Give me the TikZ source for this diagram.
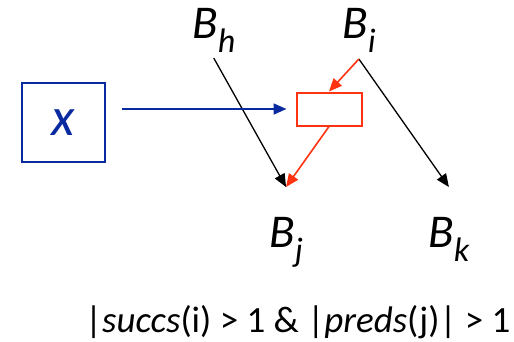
\documentclass[tikz,border=0pt]{standalone}
\usepackage{fontspec}
\setmainfont{Carlito}
\definecolor{xblue}{HTML}{0A2AA0}
\definecolor{cred}{HTML}{FF3311}
\usetikzlibrary{arrows.meta,positioning,calc}

\newcommand{\blab}[2]{\textit{B}\raisebox{-0.3em}{\fontsize{34}{36}\selectfont\textit{#2}}}

\begin{document}
\begin{tikzpicture}[x=1pt,y=-1pt,
  lab/.style={font=\fontsize{47}{50}\selectfont,inner sep=0pt,anchor=base west},
  xbox/.style={draw=xblue,line width=1.8pt,minimum width=83pt,minimum height=79pt,text=xblue,font=\fontsize{54}{58}\selectfont\itshape},
  cbox/.style={draw=cred,line width=2pt,minimum width=65pt,minimum height=33pt},
  arr/.style={-{Triangle[length=13pt,width=11pt]},line width=1.3pt}]
  \useasboundingbox (0,0) rectangle (514,341);
  \node[lab] (Bh) at (192,38) {\blab{B}{h}};
  \node[lab] (Bi) at (342,38) {\blab{B}{i}};
  \node[lab] (Bj) at (269,247) {\blab{B}{j}};
  \node[lab] (Bk) at (428,247) {\blab{B}{k}};
  \node[xbox] (x) at (63.5,122.5) {x};
  \node[cbox] (copy) at (329,109) {};
  \node[font=\fontsize{37}{40}\selectfont,inner sep=0pt,anchor=base west] (cond) at (85,332)
    {|\textit{succs}(i) > 1 \& |\textit{preds}(j)| > 1};
  % edges
  \draw[arr,black] ([yshift=-20pt]Bh.base) -- ([yshift=60pt]Bj.base);
  \draw[arr,black] ([yshift=-21pt]Bi.base) -- ([yshift=60pt]Bk.base);
  \draw[arr,cred,line width=1.6pt] ([yshift=-21pt]Bi.base) -- (copy.north);
  \draw[arr,cred,line width=1.6pt] (copy.south) -- ([yshift=60pt]Bj.base);
  \draw[arr,xblue,line width=1.8pt,shorten <=16pt,shorten >=9pt] (x.east |- copy.west) -- (copy.west);
\end{tikzpicture}
\end{document}
